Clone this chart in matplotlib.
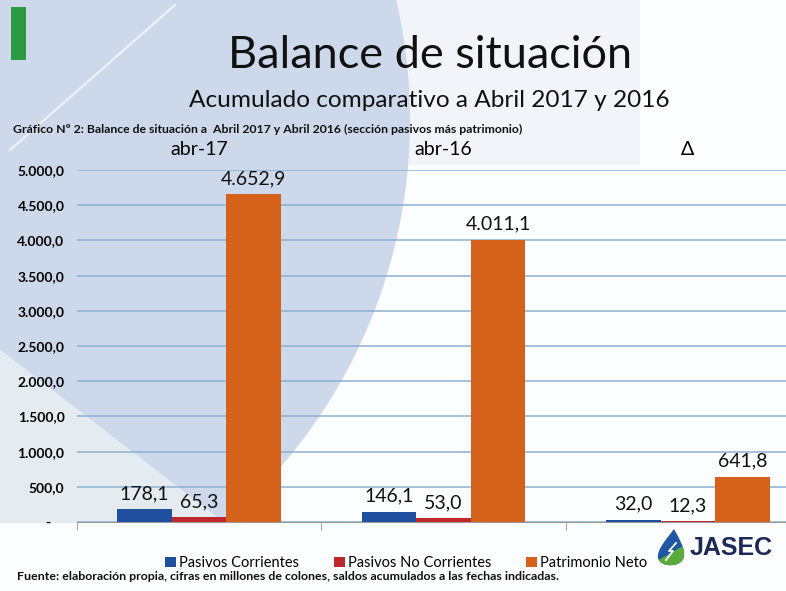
import matplotlib
matplotlib.use("Agg")
import matplotlib.pyplot as plt
from matplotlib.patches import Polygon, Rectangle, PathPatch
from matplotlib.path import Path
from matplotlib.lines import Line2D
import numpy as np

# datos (millones de colones)
categorias = ["abr-17", "abr-16", "Δ"]
series = ["Pasivos Corrientes", "Pasivos No Corrientes", "Patrimonio Neto"]
pasivos_corrientes = [178.1, 146.1, 32.0]
pasivos_no_corrientes = [65.3, 53.0, 12.3]
patrimonio_neto = [4652.9, 4011.1, 641.8]
y_ticks = [0, 500, 1000, 1500, 2000, 2500, 3000, 3500, 4000, 4500, 5000]

colores = ["#1f4f9e", "#c0272d", "#d5621b"]

plt.rcParams['font.family'] = ['Lato', 'DejaVu Sans']

W, H = 786, 591


def fmt(v):
    # formato es-CR: 4.652,9
    s = f"{v:,.1f}"
    return s.replace(",", "X").replace(".", ",").replace("X", ".")


def inch(x, y):
    # pixel de la imagen (origen arriba-izq) -> pulgadas de la figura
    return (x / 100.0, (H - y) / 100.0)


fig = plt.figure(figsize=(W / 100, H / 100), dpi=100)
fig.patch.set_facecolor("#fcfdfe")
tr = fig.dpi_scale_trans

# fondo de la diapositiva
fig.add_artist(Rectangle(inch(0, 165), 6.4, 1.65, transform=tr,
                         facecolor="#f1f5fa", edgecolor="none", zorder=0))
cx, cy, r = -120, 120, 530
ys = np.linspace(0, 523, 60)
xs = cx + np.sqrt(r ** 2 - (ys - cy) ** 2)
pts = [inch(a, b) for a, b in zip(xs, ys)] + [inch(0, 350), inch(0, 0)]
fig.add_artist(Polygon(pts, closed=True, transform=tr,
                       facecolor="#cdd9eb", edgecolor="none", zorder=0))
fig.add_artist(Polygon([inch(0, 350), inch(224, 523), inch(0, 523)], closed=True,
                       transform=tr, facecolor="#e4ecf1", edgecolor="none", zorder=0))
fig.add_artist(Line2D([175 / 100, 10 / 100], [(H - 5) / 100, (H - 150) / 100],
                      transform=tr, color="white", lw=1.5, alpha=0.7, zorder=0))
fig.add_artist(Rectangle(inch(11, 60), 0.15, 0.53, transform=tr,
                         facecolor="#2c9a43", edgecolor="none", zorder=1))

# titulos
fig.text(430 / W, 1 - 68 / H, "Balance de situación", ha="center", va="baseline",
         fontsize=32.5, color="#111111")
fig.text(429 / W, 1 - 107 / H, "Acumulado comparativo a Abril 2017 y 2016",
         ha="center", va="baseline", fontsize=17.6, color="#111111")
fig.text(13 / W, 1 - 133 / H,
         "Gráfico Nº 2: Balance de situación a  Abril 2017 y Abril 2016 (sección pasivos más patrimonio)",
         ha="left", va="baseline", fontsize=8.8, fontweight="bold", color="#111111")

# grafico
ax = fig.add_axes([77 / W, 69 / H, (810 - 77) / W, (421 - 69) / H])
ax.patch.set_alpha(0)
x = np.arange(len(categorias))
w = 0.223
for j, (nombre, vals) in enumerate(zip(series, [pasivos_corrientes, pasivos_no_corrientes, patrimonio_neto])):
    pos = x + (j - 1) * w
    ax.bar(pos, vals, w, color=colores[j], label=nombre, zorder=3)
    for xp, v in zip(pos, vals):
        ax.annotate(fmt(v), (xp, v), xytext=(0, 5), textcoords="offset points",
                    ha="center", va="bottom", fontsize=14, color="#111111", zorder=4)

ax.set_xlim(-0.5, 2.5)
ax.set_ylim(0, 5000)
ax.set_yticks(y_ticks)
ax.set_yticklabels(["-    "] + [fmt(v) for v in y_ticks[1:]], fontsize=10, fontweight="bold")
ax.yaxis.grid(True, color="#8db0d2", lw=1.1)
ax.set_axisbelow(True)
for s in ["top", "left", "right"]:
    ax.spines[s].set_visible(False)
ax.spines["bottom"].set_color("#9a9a9a")
ax.tick_params(axis="y", length=0, pad=9)

ax.set_xticks(x)
ax.set_xticklabels(categorias, fontsize=14)
ax.get_xticklabels()[2].set_fontweight("bold")
ax.tick_params(axis="x", which="major", top=False, bottom=False,
               labeltop=True, labelbottom=False, pad=5)
ax.set_xticks([-0.5, 0.5, 1.5, 2.5], minor=True)
ax.tick_params(axis="x", which="minor", bottom=True, length=6, color="#9a9a9a")

handles, labels = ax.get_legend_handles_labels()
fig.legend(handles, labels, loc="center", bbox_to_anchor=(406 / W, 1 - 563 / H),
           ncol=3, frameon=False, fontsize=10.5, handlelength=0.75, handleheight=0.75,
           handletextpad=0.2, columnspacing=2.4, borderpad=0)

fig.text(17 / W, 1 - 580 / H,
         "Fuente: elaboración propia, cifras en millones de colones, saldos acumulados a las fechas indicadas.",
         ha="left", va="baseline", fontsize=8.9, fontweight="bold", color="#111111")

# logo JASEC
drop = Path([inch(674, 529), inch(664, 542), inch(657, 550), inch(658, 558),
             inch(660, 568), inch(683, 568), inch(684, 556), inch(685, 548),
             inch(680, 540), inch(674, 529)],
            [Path.MOVETO, Path.CURVE4, Path.CURVE4, Path.CURVE4,
             Path.CURVE4, Path.CURVE4, Path.CURVE4,
             Path.CURVE4, Path.CURVE4, Path.CURVE4])
azul = PathPatch(drop, transform=tr, facecolor="#1f56a6", edgecolor="none", zorder=5)
fig.add_artist(azul)
verde = Polygon([inch(655, 568), inch(655, 562), inch(688, 543), inch(688, 568)],
                closed=True, transform=tr, facecolor="#5aab3a", edgecolor="none", zorder=6)
fig.add_artist(verde)
verde.set_clip_path(azul)
fig.add_artist(Line2D([6.76, 6.69, 6.73, 6.66], [(H - 543) / 100, (H - 551) / 100, (H - 551) / 100, (H - 560) / 100],
                      transform=tr, color="white", lw=1.3, zorder=7))
fig.text(690 / W, 1 - 555 / H, "JASEC", ha="left", va="baseline", fontsize=18,
         fontweight="bold", family="Liberation Sans", color="#1b2858")

fig.savefig("out.png", dpi=100, facecolor=fig.get_facecolor())
